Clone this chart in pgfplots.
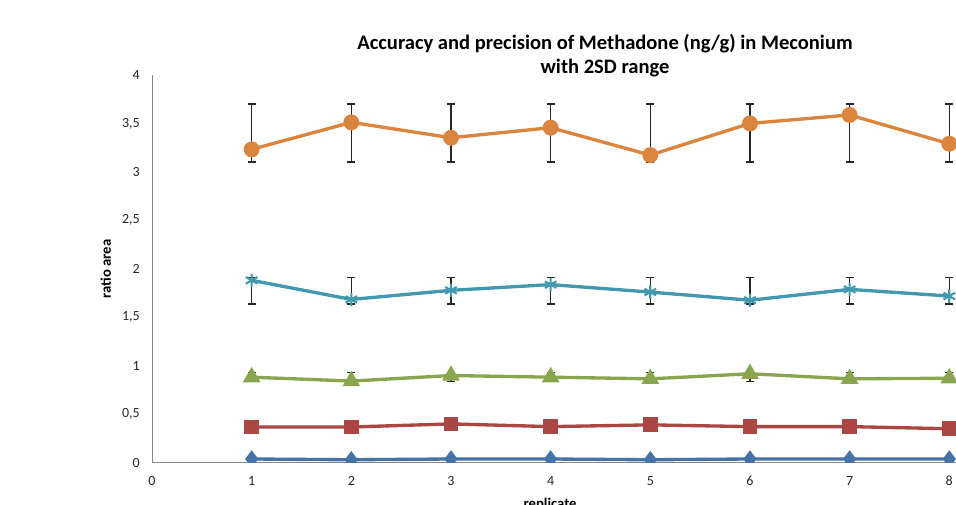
\documentclass[border=0pt]{standalone}
\usepackage{pgfplots}
\pgfplotsset{compat=1.18}
\usepackage{fontspec}
\setmainfont{Carlito}
\definecolor{cblue}{HTML}{4572A7}
\definecolor{cred}{HTML}{AA4643}
\definecolor{cgreen}{HTML}{89A54E}
\definecolor{cteal}{HTML}{4198AF}
\definecolor{corange}{HTML}{DB843D}
\definecolor{caxis}{HTML}{868686}
\begin{document}
\begin{tikzpicture}
\useasboundingbox (-114pt,-31.7pt) rectangle (603pt,347pt);
\begin{axis}[
  at={(0,0)}, anchor=south west,
  scale only axis, width=603.2pt, height=290.8pt,
  xmin=0, xmax=8.07, ymin=0, ymax=4,
  axis x line*=bottom, axis y line*=left,
  axis line style={draw=caxis, line width=0.75pt},
  xtick={0,...,8}, ytick={0,0.5,...,4},
  major tick length=0pt, tick style={draw=none},
  /pgf/number format/use comma,
  /pgf/number format/assume math mode=true,
  tick label style={font=\fontsize{10.5}{12}\selectfont, text=black!85, inner sep=0pt},
  yticklabel style={xshift=-9pt},
  xticklabel style={yshift=-10pt},
  ylabel={ratio area}, xlabel={replicate},
  ylabel style={at={(axis description cs:-0.0575,0.5)}, anchor=center, font=\bfseries\fontsize{11}{13}\selectfont},
  xlabel style={at={(axis description cs:0.495,-0.108)}, anchor=center, font=\bfseries\fontsize{11}{13}\selectfont},
  clip=true, clip marker paths=true,
  every axis plot/.append style={line width=2.5pt},
  error bars/y dir=both, error bars/y explicit,
  error bars/error bar style={draw=black!85, line width=1.1pt},
  error bars/error mark options={rotate=90, mark size=3pt, line width=1.1pt, draw=black!85},
]
\addplot[color=cblue, mark=diamond*, mark size=4.5pt, mark options={solid}, error bars/y dir=none] coordinates {
(1,0.038) (2,0.030) (3,0.038) (4,0.038) (5,0.030) (6,0.038) (7,0.038) (8,0.038)};
\addplot[color=cred, mark=square*, mark size=4.3pt, error bars/y dir=none] coordinates {
(1,0.368) (2,0.368) (3,0.400) (4,0.372) (5,0.390) (6,0.372) (7,0.372) (8,0.350)};
\addplot[color=cgreen, mark=triangle*, mark size=5.2pt] coordinates {
(1,0.882) += (0,0.047) -= (0,0.046)
(2,0.842) += (0,0.087) -= (0,0.006)
(3,0.899) += (0,0.030) -= (0,0.063)
(4,0.882) += (0,0.047) -= (0,0.046)
(5,0.865) += (0,0.064) -= (0,0.029)
(6,0.917) += (0,0.012) -= (0,0.081)
(7,0.865) += (0,0.064) -= (0,0.029)
(8,0.871) += (0,0.058) -= (0,0.035)};
\addplot[color=cteal, mark=asterisk, mark size=5pt, mark options={line width=1.6pt}] coordinates {
(1,1.881) += (0,0.032) -= (0,0.246)
(2,1.684) += (0,0.229) -= (0,0.049)
(3,1.778) += (0,0.135) -= (0,0.143)
(4,1.837) += (0,0.076) -= (0,0.202)
(5,1.760) += (0,0.153) -= (0,0.125)
(6,1.676) += (0,0.237) -= (0,0.041)
(7,1.788) += (0,0.125) -= (0,0.153)
(8,1.719) += (0,0.194) -= (0,0.084)};
\addplot[color=corange, mark=*, mark size=4.7pt] coordinates {
(1,3.232) += (0,0.468) -= (0,0.132)
(2,3.511) += (0,0.189) -= (0,0.411)
(3,3.352) += (0,0.348) -= (0,0.252)
(4,3.456) += (0,0.244) -= (0,0.356)
(5,3.173) += (0,0.527) -= (0,0.073)
(6,3.500) += (0,0.200) -= (0,0.400)
(7,3.587) += (0,0.113) -= (0,0.487)
(8,3.290) += (0,0.410) -= (0,0.190)};
\end{axis}
\node[align=center, font=\bfseries\fontsize{15.4}{18}\selectfont] at (339.75pt,305pt)
  {Accuracy and precision of Methadone (ng/g) in Meconium\\with 2SD range};
\end{tikzpicture}
\end{document}
